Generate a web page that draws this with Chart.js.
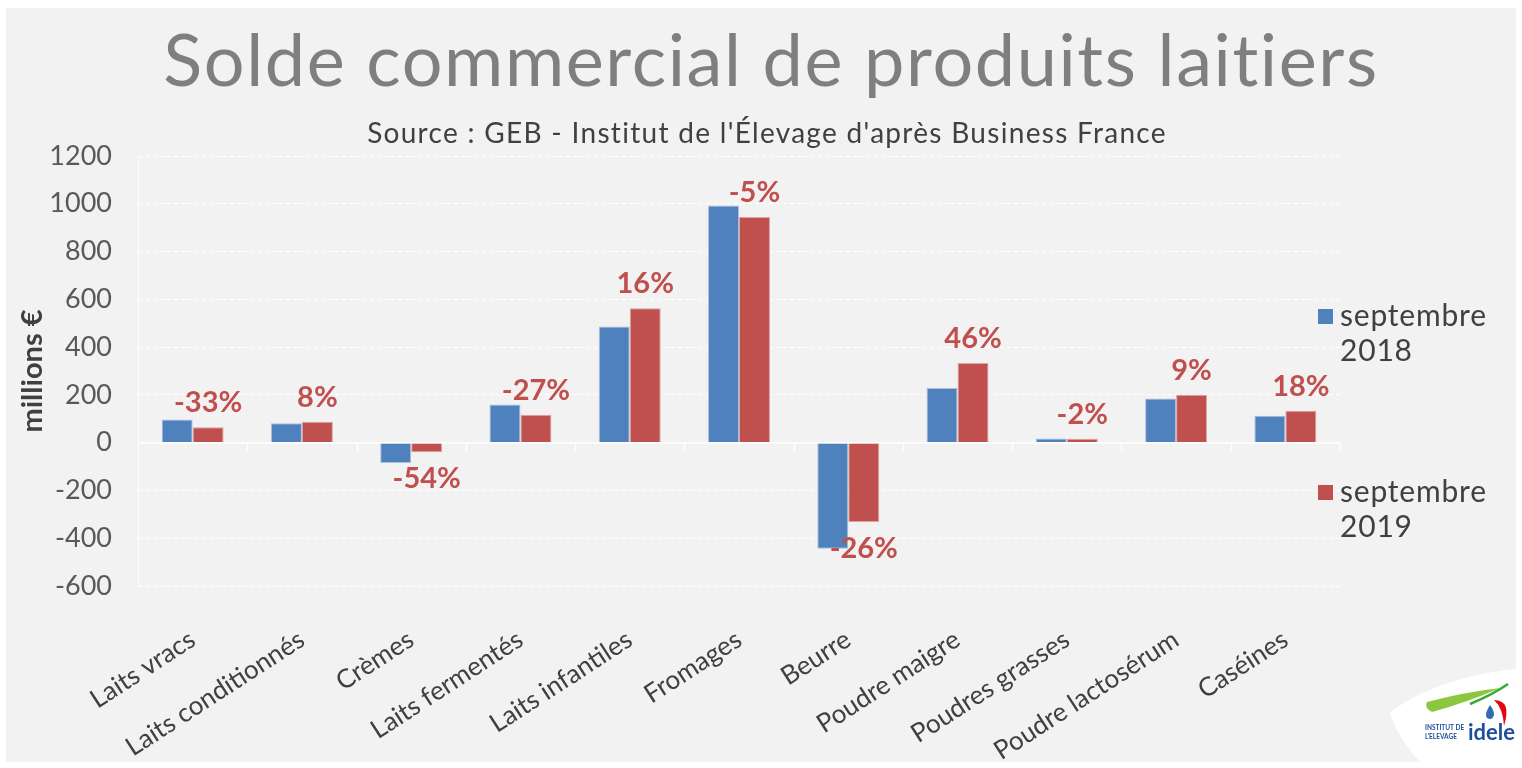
<!DOCTYPE html>
<html>
<head>
<meta charset="utf-8">
<script src="https://cdn.jsdelivr.net/npm/chart.js@4"></script>
<style>
  html, body { margin: 0; padding: 0; background: #ffffff; }
  #wrap { width: 1522px; height: 768px; }
</style>
</head>
<body>
<div id="wrap"><canvas id="graph" width="1522" height="768"></canvas></div>
<script>
// solde commercial, millions d'euros
const produits = ['Laits vracs', 'Laits conditionnés', 'Crèmes', 'Laits fermentés', 'Laits infantiles',
  'Fromages', 'Beurre', 'Poudre maigre', 'Poudres grasses', 'Poudre lactosérum', 'Caséines'];
const sept2018 = [97, 81, -85, 160, 486, 993, -444, 229, 17, 185, 113];
const sept2019 = [65, 88, -40, 117, 563, 945, -332, 334, 16, 201, 134];
const evolution = [-33, 8, -54, -27, 16, -5, -26, 46, -2, 9, 18];
const series = [['septembre', '2018'], ['septembre', '2019']];
const titre = 'Solde commercial de produits laitiers';
const sousTitre = "Source : GEB - Institut de l'Élevage d'après Business France";

const FONT = 'Lato, "Open Sans", sans-serif';
const BLEU = '#4F81BD';
const ROUGE = '#C0504D';

// fond gris, titres et logo idele
const fond = {
  id: 'fond',
  beforeDraw(chart) {
    const c = chart.ctx;
    c.save();
    c.fillStyle = '#ffffff';
    c.fillRect(0, 0, chart.width, chart.height);
    c.fillStyle = '#F2F2F2';
    c.fillRect(6, 8, chart.width - 12, chart.height - 14);

    c.textAlign = 'center';
    c.textBaseline = 'alphabetic';
    c.fillStyle = '#7F7F7F';
    c.font = '72px ' + FONT;
    c.letterSpacing = '1.6px';
    c.fillText(titre, 771, 86);
    c.fillStyle = '#404040';
    c.font = '28px ' + FONT;
    c.letterSpacing = '1.3px';
    c.fillText(sousTitre, 767, 143);
    c.restore();
  },
  afterDraw(chart) {
    const c = chart.ctx;
    c.save();
    // forme blanche
    c.fillStyle = '#ffffff';
    c.beginPath();
    c.moveTo(1390, 712);
    c.quadraticCurveTo(1440, 676, 1522, 668);
    c.lineTo(1522, 768);
    c.lineTo(1425, 768);
    c.quadraticCurveTo(1395, 735, 1390, 712);
    c.fill();
    // virgule verte
    c.fillStyle = '#8DC63F';
    c.beginPath();
    c.moveTo(1427, 702);
    c.quadraticCurveTo(1465, 692, 1500, 688);
    c.quadraticCurveTo(1468, 702, 1432, 712);
    c.quadraticCurveTo(1424, 708, 1427, 702);
    c.fill();
    c.strokeStyle = '#3AAA35';
    c.lineWidth = 2.5;
    c.beginPath();
    c.moveTo(1470, 704);
    c.quadraticCurveTo(1492, 695, 1508, 684);
    c.stroke();
    // goutte rouge et bleue
    c.fillStyle = '#E30613';
    c.beginPath();
    c.moveTo(1494, 700);
    c.quadraticCurveTo(1512, 700, 1504, 726);
    c.quadraticCurveTo(1503, 708, 1494, 700);
    c.fill();
    c.fillStyle = '#2E6DB4';
    c.beginPath();
    c.moveTo(1490, 705);
    c.quadraticCurveTo(1484, 714, 1487, 718);
    c.quadraticCurveTo(1492, 721, 1494, 715);
    c.quadraticCurveTo(1494, 710, 1490, 705);
    c.fill();
    c.fillStyle = '#1F4E9A';
    c.textBaseline = 'alphabetic';
    c.font = 'bold 6.5px ' + FONT;
    c.fillText('INSTITUT DE', 1425, 730);
    c.fillText("L'ELEVAGE", 1425, 739);
    c.font = 'bold 22px ' + FONT;
    c.fillText('idele', 1468, 740);
    c.restore();
  }
};

// ligne du zéro, étiquettes d'évolution et légende
const habillage = {
  id: 'habillage',
  afterDatasetsDraw(chart) {
    const c = chart.ctx;
    const area = chart.chartArea;
    const y = chart.scales.y;
    const y0 = y.getPixelForValue(0);
    c.save();
    c.strokeStyle = '#ffffff';
    c.lineWidth = 1.5;
    c.beginPath();
    c.moveTo(area.left, y0);
    c.lineTo(area.right, y0);
    const pas = (area.right - area.left) / produits.length;
    for (let i = 1; i <= produits.length; i++) {
      const px = Math.round(area.left + pas * i) + 0.5;
      c.moveTo(px, y0);
      c.lineTo(px, y0 + 8);
    }
    c.stroke();

    const meta = chart.getDatasetMeta(1);
    c.fillStyle = ROUGE;
    c.font = 'bold 29px ' + FONT;
    c.textAlign = 'center';
    meta.data.forEach((bar, i) => {
      const txt = evolution[i] + '%';
      if (sept2019[i] >= 0) {
        c.textBaseline = 'bottom';
        c.fillText(txt, bar.x, bar.y - 10);
      } else {
        c.textBaseline = 'top';
        c.fillText(txt, bar.x, bar.y + 12);
      }
    });

    // légende à droite
    const couleurs = [BLEU, ROUGE];
    const lignes = [316, 492];
    c.textAlign = 'left';
    c.textBaseline = 'middle';
    c.font = '30px ' + FONT;
    c.letterSpacing = '0.8px';
    series.forEach((s, i) => {
      c.fillStyle = couleurs[i];
      c.fillRect(1318, lignes[i] - 7, 15, 15);
      c.fillStyle = '#404040';
      c.fillText(s[0], 1340, lignes[i]);
      c.fillText(s[1], 1340, lignes[i] + 35);
    });
    c.restore();
  }
};

new Chart(document.getElementById('graph'), {
  type: 'bar',
  data: {
    labels: produits,
    datasets: [
      { label: 'septembre 2018', data: sept2018, backgroundColor: BLEU, borderColor: '#a9c0df', borderWidth: 1 },
      { label: 'septembre 2019', data: sept2019, backgroundColor: ROUGE, borderColor: '#dba3a1', borderWidth: 1 }
    ]
  },
  options: {
    responsive: false,
    animation: false,
    categoryPercentage: 0.567,
    barPercentage: 1,
    layout: { padding: { left: 6, right: 182, top: 156, bottom: 0 } },
    plugins: {
      legend: { display: false },
      tooltip: { enabled: false }
    },
    scales: {
      y: {
        min: -600,
        max: 1200,
        afterFit(scale) { scale.width = 132; },
        ticks: { stepSize: 200, color: '#595959', font: { family: FONT, size: 27 }, padding: 26,
          callback: v => String(v) },
        grid: { color: '#ffffff', drawTicks: false },
        border: { display: true, color: '#ffffff', dash: [4, 3] },
        title: { display: true, text: 'millions €', color: '#404040', font: { family: FONT, size: 29, weight: 'bold' },
          padding: { top: 9, bottom: 0 } }
      },
      x: {
        afterFit(scale) { scale.height = 182; },
        grid: { display: false },
        border: { display: false },
        ticks: { color: '#404040', font: { family: FONT, size: 26 }, minRotation: 33, maxRotation: 33, padding: 30, autoSkip: false }
      }
    }
  },
  plugins: [fond, habillage]
});
</script>
</body>
</html>
